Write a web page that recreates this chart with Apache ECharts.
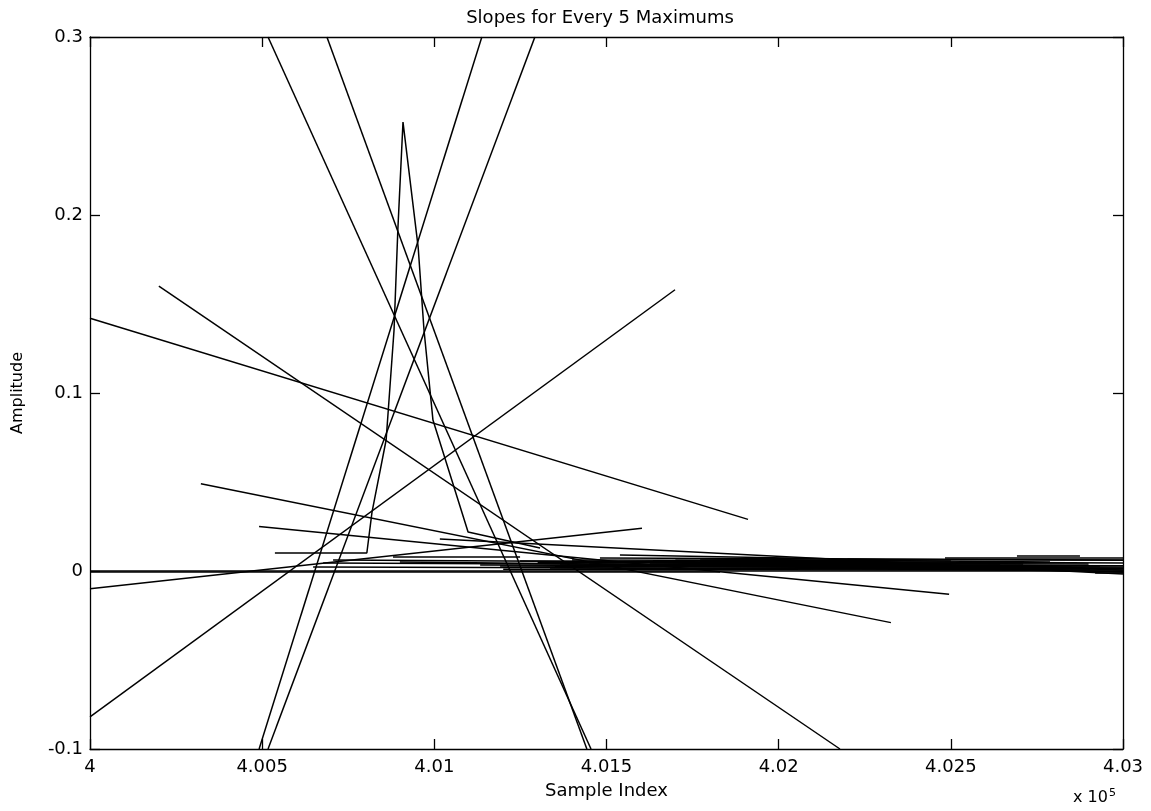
<!DOCTYPE html>
<html><head><meta charset="utf-8">
<script src="https://cdn.jsdelivr.net/npm/echarts@6/dist/echarts.min.js"></script>
<style>html,body{margin:0;padding:0;background:#fff}#c{width:1151px;height:811px}</style>
</head><body><div id="c"></div>
<script>
// tick labels
const xTickLabels = ['4', '4.005', '4.01', '4.015', '4.02', '4.025', '4.03'];
const yTickLabels = ['-0.1', '0', '0.1', '0.2', '0.3'];

// long slope lines [sampleIndex, amplitude]
const slope1 = [[400000, 0.142], [401911, 0.029]];
const slope2 = [[400200, 0.160], [402178, -0.100]];
const slope3 = [[400000, -0.082], [401699, 0.158]];
const slope4 = [[400322, 0.049], [402326, -0.029]];
const slope5 = [[400491, 0.025], [402495, -0.013]];
const slope6 = [[400000, -0.010], [401603, 0.024]];
const slope7 = [[400517, 0.300], [401455, -0.100]];
const slope8 = [[400688, 0.300], [401443, -0.100]];
const slope9 = [[401138, 0.300], [400491, -0.100]];
const slope10 = [[401292, 0.300], [400517, -0.100]];

// the spike trace
const spike = [[400537, 0.0101], [400804, 0.0101], [400819, 0.0331], [400860, 0.0736], [400883, 0.1354],
  [400894, 0.1916], [400909, 0.2522], [400953, 0.1820], [400970, 0.1354], [400996, 0.0848],
  [401098, 0.0219], [401307, 0.0129]];

// near-zero slope lines
const flat1 = [[400000, 0.0000], [403000, 0.0000]];
const flat2 = [[400000, -0.0006], [401830, -0.0006]];
const flat3 = [[400648, 0.0022], [402652, 0.0011]];
const flat4 = [[400677, 0.0045], [402681, 0.0028]];
const flat5 = [[400706, 0.0062], [402710, 0.0039]];
const flat6 = [[400900, 0.0051], [402904, 0.0011]];
const flat7 = [[401016, 0.0180], [403000, -0.0017]];
const flat8 = [[401365, 0.0034], [403000, 0.0017]];
const flat9 = [[401481, 0.0073], [403000, 0.0062]];
const flat10 = [[401539, 0.0090], [402352, 0.0062]];
const flat11 = [[401772, 0.0056], [403000, 0.0045]];
const flat12 = [[402062, 0.0051], [403000, -0.0006]];
const flat13 = [[402483, 0.0073], [403000, 0.0073]];
const flat14 = [[402692, 0.0084], [402875, 0.0084]];
const flat15 = [[402643, 0.0028], [403000, 0.0006]];
const flat16 = [[402919, -0.0011], [403000, -0.0011]];
const flat17 = [[401191, 0.0028], [402643, 0.0017]];
const flat18 = [[401626, 0.0045], [402933, 0.0028]];
const flat19 = [[401133, 0.0034], [403000, 0.0022]];
const flat20 = [[401336, 0.0017], [403000, 0.0006]];
const flat21 = [[401481, 0.0051], [402643, 0.0039]];
const flat22 = [[401772, 0.0067], [402788, 0.0051]];
const flat23 = [[401249, 0.0056], [402527, 0.0045]];
const flat24 = [[402062, 0.0028], [403000, -0.0006]];
const flat25 = [[400880, 0.0079], [401249, 0.0079]];
const flat26 = [[401400, 0.0062], [402500, 0.0056]];
const flat27 = [[401300, 0.0048], [402900, 0.0040]];
const flat28 = [[401450, 0.0040], [402850, 0.0030]];
const flat29 = [[401500, 0.0026], [403000, 0.0012]];
const flat30 = [[401200, 0.0010], [402800, 0.0004]];
const flat31 = [[401700, 0.0060], [402300, 0.0058]];
const flat32 = [[402200, 0.0066], [403000, 0.0060]];
const flat33 = [[401900, 0.0036], [403000, 0.0030]];

const allLines = [slope1, slope2, slope3, slope4, slope5, slope6, slope7, slope8, slope9, slope10, spike,
  flat1, flat2, flat3, flat4, flat5, flat6, flat7, flat8, flat9, flat10, flat11, flat12, flat13, flat14,
  flat15, flat16, flat17, flat18, flat19, flat20, flat21, flat22, flat23, flat24, flat25,
  flat26, flat27, flat28, flat29, flat30, flat31, flat32, flat33];

const FONT = 'DejaVu Sans, Liberation Sans, sans-serif';
const chart = echarts.init(document.getElementById('c'), null, {renderer: 'canvas'});

const xLab = v => xTickLabels[Math.round((v - 400000) / 500)] || '';
const yLab = v => yTickLabels[Math.round((v + 0.1) / 0.1)] || '';

const baseX = {
  type: 'value', min: 400000, max: 403000, interval: 500,
  axisLine: {show: true, onZero: false, lineStyle: {color: '#000', width: 1.3}},
  axisTick: {show: true, inside: true, length: 10, lineStyle: {color: '#000', width: 1.3}},
  splitLine: {show: false}
};
const baseY = {
  type: 'value', min: -0.1, max: 0.3, interval: 0.1,
  axisLine: {show: true, onZero: false, lineStyle: {color: '#000', width: 1.3}},
  axisTick: {show: true, inside: true, length: 10, lineStyle: {color: '#000', width: 1.3}},
  splitLine: {show: false}
};

chart.setOption({
  animation: false,
  backgroundColor: '#fff',
  title: {
    text: 'Slopes for Every 5 Maximums', left: 595, textAlign: 'center', top: 4,
    textStyle: {fontFamily: FONT, fontSize: 18, fontWeight: 'normal', color: '#000'}
  },
  grid: {left: 90, right: 28, top: 37, bottom: 62, containLabel: false},
  xAxis: [
    Object.assign({}, baseX, {
      position: 'bottom',
      axisLabel: {formatter: xLab, color: '#000', fontFamily: FONT, fontSize: 18, margin: 9},
      name: 'Sample Index', nameLocation: 'middle', nameGap: 33,
      nameTextStyle: {fontFamily: FONT, fontSize: 18, color: '#000'}
    }),
    Object.assign({}, baseX, {position: 'top', axisLabel: {show: false}})
  ],
  yAxis: [
    Object.assign({}, baseY, {
      position: 'left',
      axisLabel: {formatter: yLab, color: '#000', fontFamily: FONT, fontSize: 18, margin: 7},
      name: 'Amplitude', nameLocation: 'middle', nameGap: 64,
      nameTextStyle: {fontFamily: FONT, fontSize: 16, color: '#000'}
    }),
    Object.assign({}, baseY, {position: 'right', axisLabel: {show: false}})
  ],
  graphic: [{
    type: 'text', left: 1073, top: 788,
    style: {
      text: 'x 10{s|5}', fontFamily: FONT, fontSize: 16, fill: '#000',
      rich: {s: {fontSize: 11, fontFamily: FONT, verticalAlign: 'top', padding: [0, 0, 9, 1]}}
    }
  }],
  series: allLines.map(d => ({
    type: 'line', data: d, xAxisIndex: 0, yAxisIndex: 0,
    showSymbol: false, symbol: 'none', clip: true, silent: true,
    lineStyle: {color: '#000', width: 1.5}
  }))
});
</script></body></html>
